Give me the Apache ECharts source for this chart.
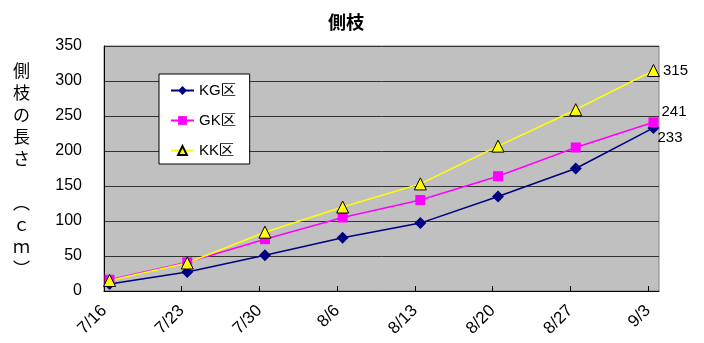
<!DOCTYPE html>
<html>
<head>
<meta charset="utf-8">
<script src="https://cdn.jsdelivr.net/npm/echarts@6/dist/echarts.min.js"></script>
<style>
html,body{margin:0;padding:0;background:#fff;}
#chart{width:704px;height:343px;}
</style>
</head>
<body>
<div id="chart"></div>
<script>
const dates = ['7/16','7/23','7/30','8/6','8/13','8/20','8/27','9/3'];
const kgValues = [10, 27, 51, 76, 97, 135, 175, 233];
const gkValues = [16, 41, 74, 105, 130, 164, 205, 241];
const kkValues = [15, 40, 84, 120, 153, 207, 259, 315];
const yTicks = [0, 50, 100, 150, 200, 250, 300, 350];
const titleText = '側枝';
const yName = ['側','枝','の','長','さ','','︵','ｃ','ｍ','︶'];

const DAYS_PER_STEP = 7;
const tickDays = dates.map((d, i) => i * DAYS_PER_STEP);
const labelFont = 'Liberation Sans, Arial, sans-serif';

function buildData(values, labelOpt) {
  return values.map((v, i) => {
    const item = { value: [i * DAYS_PER_STEP + 0.5, v] };
    if (i === values.length - 1) item.label = Object.assign({
      show: true, position: 'right', distance: 3,
      formatter: String(v), color: '#000', fontSize: 15, fontFamily: labelFont
    }, labelOpt);
    return item;
  });
}

const chart = echarts.init(document.getElementById('chart'), null, { renderer: 'canvas' });
chart.setOption({
  animation: false,
  backgroundColor: '#fff',
  title: {
    text: titleText, left: 323, top: 8,
    textStyle: { fontSize: 18, fontWeight: 'bold', color: '#000', fontFamily: 'Noto Sans CJK JP' }
  },
  graphic: [{
    type: 'text', left: 13, top: 60,
    style: {
      text: yName.join('\n'), align: 'center', lineHeight: 22,
      fontSize: 17, fontFamily: 'Noto Sans CJK JP', fill: '#000'
    }
  }, {
    type: 'rect', shape: { x: 104, y: 46, width: 555, height: 245 },
    style: { fill: '#c0c0c0', stroke: '#808080', lineWidth: 1 }, z: -10, silent: true
  }],
  legend: {
    orient: 'vertical', left: 159, top: 74,
    backgroundColor: '#fff', borderColor: '#000', borderWidth: 1,
    padding: [9, 14, 6, 11], itemGap: 15, itemWidth: 23, itemHeight: 11,
    textStyle: { fontSize: 15, color: '#000', fontFamily: labelFont },
    data: ['KG区', 'GK区', 'KK区']
  },
  grid: { left: 104, right: 45, top: 46, bottom: 52, containLabel: false },
  xAxis: {
    type: 'value', min: 0, max: tickDays[tickDays.length - 1] + 1, interval: DAYS_PER_STEP,
    axisLine: { show: true, lineStyle: { color: '#000', width: 1 } },
    axisTick: { show: true, inside: true, length: 5, lineStyle: { color: '#000' }, customValues: tickDays },
    axisLabel: {
      rotate: 45, margin: 17, fontSize: 17, color: '#000', fontFamily: labelFont,
      customValues: tickDays,
      formatter: v => { const i = tickDays.indexOf(v); return i >= 0 ? dates[i] : ''; }
    },
    splitLine: { show: false }
  },
  yAxis: {
    type: 'value', min: yTicks[0], max: yTicks[yTicks.length - 1], interval: 50,
    axisLine: { show: true, lineStyle: { color: '#000', width: 1 } },
    axisTick: { show: false },
    axisLabel: { margin: 22, fontSize: 16, color: '#000', fontFamily: labelFont },
    splitLine: { show: true, lineStyle: { color: '#333', width: 1 } }
  },
  series: [{
    name: 'KG区', type: 'line', data: buildData(kgValues, { offset: [-5, 10] }),
    symbol: 'diamond', symbolSize: [12, 12], showAllSymbol: true,
    lineStyle: { color: '#000080', width: 1.5 },
    itemStyle: { color: '#000080' }
  }, {
    name: 'GK区', type: 'line', data: buildData(gkValues, { offset: [0, -10] }),
    symbol: 'rect', symbolSize: 10, showAllSymbol: true,
    lineStyle: { color: '#ff00ff', width: 1.5 },
    itemStyle: { color: '#ff00ff' }
  }, {
    name: 'KK区', type: 'line', data: buildData(kkValues, {}),
    symbol: 'triangle', symbolSize: 12, showAllSymbol: true,
    lineStyle: { color: '#ffff00', width: 1.5 },
    itemStyle: { color: '#ffff00', borderColor: '#000', borderWidth: 1 }
  }]
});
</script>
</body>
</html>
